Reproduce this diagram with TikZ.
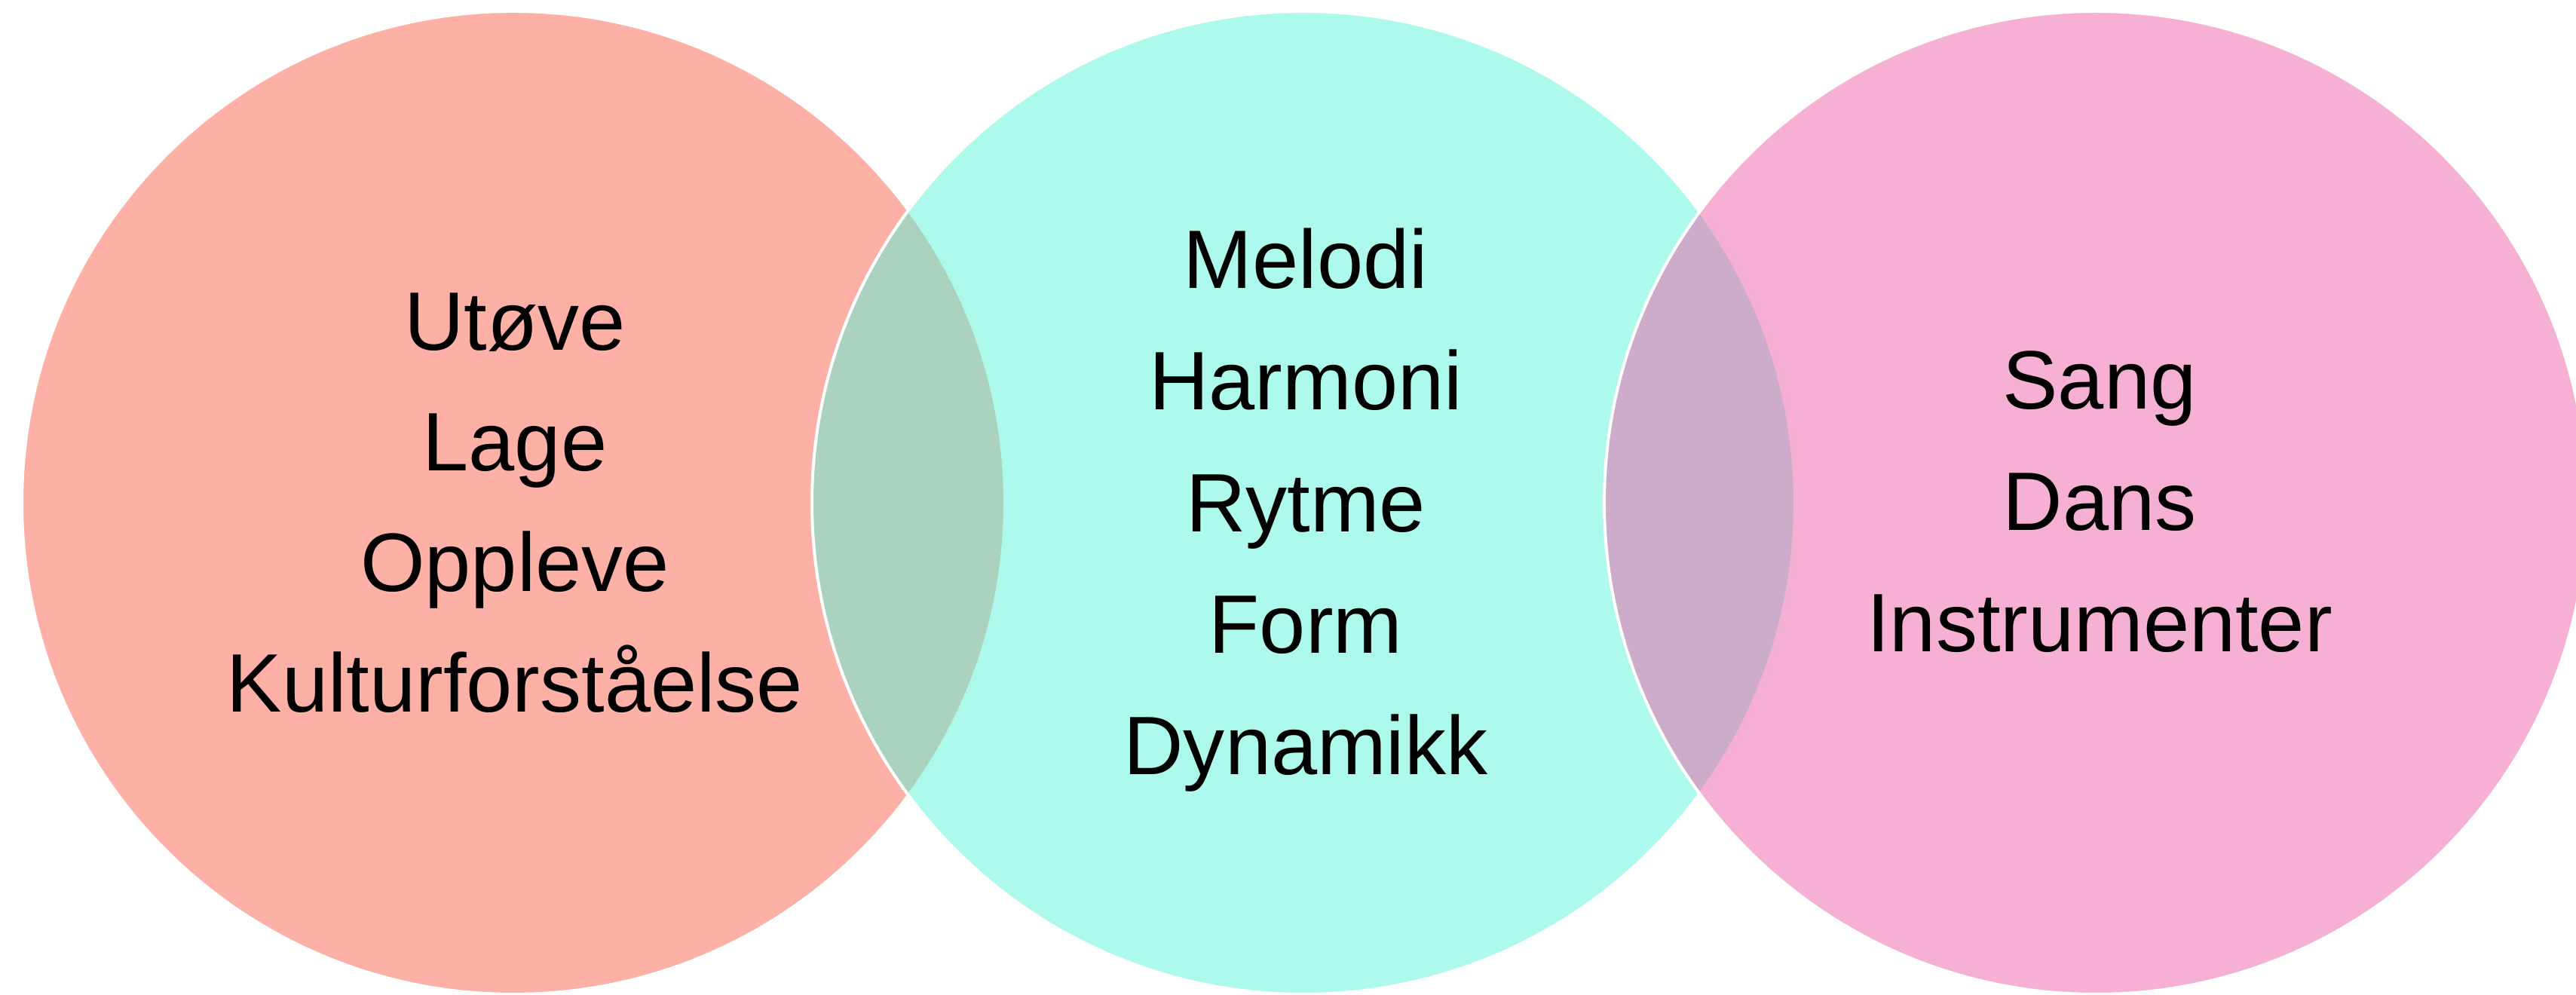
\documentclass[tikz,border=0pt]{standalone}
\usepackage{fontspec}
\setmainfont{Liberation Sans}
\definecolor{salmon}{RGB}{253,177,166}
\definecolor{aqua}{RGB}{91,243,215}
\definecolor{rose}{RGB}{237,97,169}
\begin{document}
\begin{tikzpicture}[
  setcircle/.style={draw=white, line width=0.04cm},
  word/.style={anchor=base, inner sep=0pt, text=black, font=\fontsize{31.3pt}{45.8pt}\selectfont}
]
\useasboundingbox (0,0) rectangle (34.17,13.2);
\clip (0,0) rectangle (34.17,13.2);
% circles
\path[setcircle, fill=salmon] (6.81,6.53) circle (6.52);
\path[setcircle, fill=aqua, fill opacity=0.5] (17.29,6.53) circle (6.52);
\path[setcircle, fill=rose, fill opacity=0.5] (27.80,6.53) circle (6.52);
% left texts
\node[word] (l1) at (6.83,8.55) {Utøve};
\node[word] (l2) at (6.83,6.95) {Lage};
\node[word] (l3) at (6.83,5.35) {Oppleve};
\node[word] (l4) at (6.83,3.75) {Kulturforståelse};
% middle texts
\node[word] (m1) at (17.32,9.37) {Melodi};
\node[word] (m2) at (17.32,7.76) {Harmoni};
\node[word] (m3) at (17.32,6.14) {Rytme};
\node[word] (m4) at (17.32,4.53) {Form};
\node[word] (m5) at (17.32,2.92) {Dynamikk};
% right texts
\node[word] (r1) at (27.85,7.77) {Sang};
\node[word] (r2) at (27.85,6.16) {Dans};
\node[word] (r3) at (27.85,4.55) {Instrumenter};
\end{tikzpicture}
\end{document}
